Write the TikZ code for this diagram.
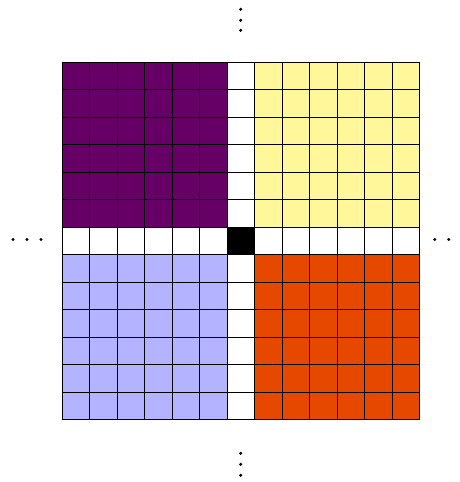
\documentclass[tikz,border=0pt]{standalone}
\definecolor{purp}{RGB}{102,0,102}
\definecolor{yel}{RGB}{255,247,153}
\definecolor{lav}{RGB}{179,179,255}
\definecolor{ora}{RGB}{230,72,0}
\tikzset{gridline/.style={black,line width=0.9pt},dotmark/.style={black}}
\begin{document}
\begin{tikzpicture}[x=1pt,y=-1pt]
\useasboundingbox (0,0) rectangle (459,482);
\def\c{27.5}
\fill[purp] (62,62) rectangle ++(165,165);
\fill[yel] (254.5,62) rectangle ++(165,165);
\fill[lav] (62,254.5) rectangle ++(165,165);
\fill[ora] (254.5,254.5) rectangle ++(165,165);
\fill[black] (227,227) rectangle ++(27.5,27.5);
\foreach \k in {0,...,13} {
  \draw[gridline] (62+\k*\c,62) -- (62+\k*\c,419.5);
  \draw[gridline] (62,62+\k*\c) -- (419.5,62+\k*\c);
}
% dots
\foreach \y in {9.3,20.3,30.3,453.3,464.3,475.3} \fill[dotmark] (240.7,\y) circle (1.7);
\foreach \x in {13,27,41,434.7,448.7,462.7} \fill[dotmark] (\x,239.5) circle (1.7);
\end{tikzpicture}
\end{document}
